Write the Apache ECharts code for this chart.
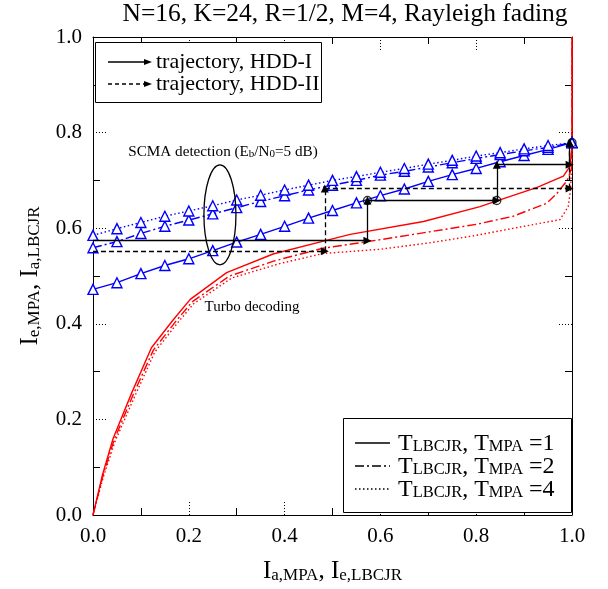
<!DOCTYPE html>
<html><head><meta charset="utf-8">
<script src="https://cdn.jsdelivr.net/npm/echarts@6/dist/echarts.min.js"></script>
<style>html,body{margin:0;padding:0;background:#fff}#c{width:608px;height:589px}</style>
</head><body><div id="c"></div>
<script>
// ---- data ----
const xSteps = [0,0.05,0.1,0.15,0.2,0.25,0.3,0.35,0.4,0.45,0.5,0.55,0.6,0.65,0.7,0.75,0.8,0.85,0.9,0.95,1.0];
const scmaT1 = [0.472,0.486,0.505,0.522,0.536,0.553,0.571,0.587,0.604,0.621,0.637,0.653,0.668,0.682,0.698,0.712,0.725,0.739,0.752,0.765,0.779];
const scmaT2 = [0.559,0.572,0.589,0.604,0.617,0.630,0.643,0.656,0.668,0.680,0.690,0.700,0.711,0.719,0.728,0.737,0.746,0.754,0.762,0.769,0.779];
const scmaT4 = [0.585,0.599,0.612,0.625,0.636,0.647,0.659,0.669,0.680,0.690,0.700,0.708,0.717,0.725,0.734,0.742,0.751,0.758,0.766,0.773,0.779];
const turboT1 = [[0,0],[0.02,0.085],[0.042,0.16],[0.081,0.256],[0.122,0.35],[0.168,0.409],[0.203,0.451],[0.279,0.507],[0.376,0.546],[0.481,0.573],[0.537,0.587],[0.69,0.614],[0.808,0.645],[0.843,0.657],[0.926,0.685],[0.982,0.709],[0.996,0.73],[1,0.77],[1,1]];
const turboT2 = [[0,0],[0.021,0.083],[0.044,0.157],[0.084,0.252],[0.126,0.345],[0.172,0.404],[0.207,0.446],[0.285,0.5],[0.38,0.532],[0.48,0.558],[0.6,0.576],[0.7,0.592],[0.8,0.608],[0.877,0.625],[0.947,0.652],[0.968,0.672],[0.99,0.7],[0.999,0.725],[1,0.78],[1,1]];
const turboT4 = [[0,0],[0.022,0.081],[0.046,0.154],[0.087,0.248],[0.129,0.341],[0.175,0.4],[0.21,0.442],[0.29,0.496],[0.39,0.526],[0.48,0.547],[0.6,0.556],[0.7,0.569],[0.8,0.585],[0.9,0.604],[0.975,0.618],[0.992,0.645],[0.997,0.68],[1,0.75],[1,1]];
const hddI = [[0,0.574],[0.573,0.574],[0.573,0.658],[0.843,0.658],[0.843,0.733],[0.995,0.733],[0.995,0.779]];
const hddII = [[0,0.552],[0.484,0.552],[0.484,0.683],[0.995,0.683],[0.995,0.779]];
const hddICircles = [[0.573,0.658],[0.843,0.658],[1,0.779]];
const tickLabels = ['0.0','0.2','0.4','0.6','0.8','1.0'];
const titleText = 'N=16, K=24, R=1/2, M=4, Rayleigh fading';
const scmaNote = ['SCMA detection (E','b','/N','0','=5 dB)'];
const turboNote = 'Turbo decoding';
const ellipseCenter = [0.265, 0.628];

// ---- styles ----
const FF = 'Liberation Serif';
const BLUE = '#0000ff', RED = '#ff0000';
const DASHDOT = [9,3,2,3];
const DOT = [1.5,2.5];

function segs(pts){ const out=[]; for(let i=0;i<pts.length-1;i++) out.push({coords:[pts[i],pts[i+1]]}); return out; }
function scma(name, vals, type){
  return {type:'line', name, data:xSteps.map((x,i)=>[x,vals[i]]), symbol:'triangle', symbolSize:10, showAllSymbol:true,
    itemStyle:{color:'#fff', borderColor:BLUE, borderWidth:1.4}, lineStyle:{color:BLUE, width:1.4, type}, z:3, silent:true};
}
function turbo(name, pts, type){
  return {type:'line', name, data:pts, symbol:'none', lineStyle:{color:RED, width:1.4, type}, z:2, silent:true};
}
function traj(pts, type){
  return {type:'lines', coordinateSystem:'cartesian2d', data:segs(pts), symbol:['none','triangle'], symbolSize:8,
    lineStyle:{color:'#000', width:1.3, type, opacity:1, curveness:0}, itemStyle:{color:'#000'}, z:5, silent:true};
}
const axisCommon = (pos, showLabel)=>({
  type:'value', min:0, max:1, interval:0.2, position:pos,
  axisLine:{show:true, onZero:false, lineStyle:{color:'#000', width:1}},
  axisTick:{show:true, inside:true, length:14, lineStyle:{color:'#000', width:1, type:[1,2]}},
  minorTick:{show:true, splitNumber:2, length:7, lineStyle:{color:'#000', width:1}},
  splitLine:{show:false}, minorSplitLine:{show:false},
  axisLabel:{show:showLabel, color:'#000', fontFamily:FF, fontSize:21, margin:11,
    formatter:v=>tickLabels[Math.round(v/0.2)]}
});
const richName = {
  b:{fontFamily:FF, fontSize:25, lineHeight:27, verticalAlign:'bottom', color:'#000'},
  s:{fontFamily:FF, fontSize:17, lineHeight:13, verticalAlign:'bottom', color:'#000'}
};
const xMain = Object.assign(axisCommon('bottom', true), {name:'{b|I}{s|a,MPA}{b|, I}{s|e,LBCJR}', nameLocation:'middle', nameGap:42, nameTextStyle:{rich:richName, fontFamily:FF, fontSize:25}});
const yMain = Object.assign(axisCommon('left', true), {name:'{b|I}{s|e,MPA}{b|, I}{s|a,LBCJR}', nameLocation:'middle', nameGap:50, nameRotate:90, nameTextStyle:{rich:richName, fontFamily:FF, fontSize:25}});

const chart = echarts.init(document.getElementById('c'), null, {renderer:'canvas'});
const option = {
  animation:false, backgroundColor:'#fff',
  grid:{left:93, right:36, top:37, bottom:73, containLabel:false},
  xAxis:[xMain, axisCommon('top', false)],
  yAxis:[yMain, axisCommon('right', false)],
  series:[
    turbo('T1 turbo', turboT1, 'solid'),
    turbo('T2 turbo', turboT2, DASHDOT),
    turbo('T4 turbo', turboT4, DOT),
    scma('T1', scmaT1, 'solid'),
    scma('T2', scmaT2, DASHDOT),
    scma('T4', scmaT4, DOT),
    traj(hddI, 'solid'),
    traj(hddII, [5,3]),
    {type:'scatter', data:hddICircles, symbol:'circle', symbolSize:8, itemStyle:{color:'rgba(0,0,0,0)', borderColor:'#000', borderWidth:1.3}, z:6, silent:true}
  ]
};
chart.setOption(option);

const c = chart.convertToPixel({gridIndex:0}, ellipseCenter);
const legLine = (x1,x2,y,dash)=>({type:'line', shape:{x1,y1:y,x2,y2:y}, style:{stroke:'#000', lineWidth:1.3, lineDash:dash}, z:100});
const arrowHead = (x,y)=>({type:'polygon', shape:{points:[[x-8,y-3],[x,y],[x-8,y+3]]}, style:{fill:'#000'}, z:100});
const sub = {
  t:{fontFamily:FF, fontSize:24, lineHeight:25, verticalAlign:'bottom', color:'#000'},
  u:{fontFamily:FF, fontSize:16.5, lineHeight:13, verticalAlign:'bottom', color:'#000'}
};
const legText = (y,n)=>({type:'text', x:398, y, style:{text:'{t|T}{u|LBCJR}{t|, T}{u|MPA}{t| ='+n+'}', rich:sub, verticalAlign:'middle', align:'left'}, z:100});
chart.setOption({graphic:[
  {type:'text', x:345, y:14, style:{text:titleText, fontFamily:FF, fontSize:25.5, fill:'#000', align:'center', verticalAlign:'middle'}},
  // legend 1
  {type:'rect', shape:{x:95.5, y:42.5, width:226, height:60}, style:{fill:'#fff', stroke:'#000', lineWidth:1}, z:90},
  legLine(108,145,62,null), arrowHead(152,62),
  {type:'text', x:156, y:62, style:{text:'trajectory, HDD-I', fontFamily:FF, fontSize:22, fill:'#000', verticalAlign:'middle'}, z:100},
  legLine(108,145,84,[4,3]), arrowHead(152,84),
  {type:'text', x:156, y:84, style:{text:'trajectory, HDD-II', fontFamily:FF, fontSize:22, fill:'#000', verticalAlign:'middle'}, z:100},
  // legend 2
  {type:'rect', shape:{x:343.5, y:418.5, width:228, height:94}, style:{fill:'#fff', stroke:'#000', lineWidth:1}, z:90},
  legLine(355,390,443,null), legText(443,1),
  legLine(355,390,466,DASHDOT), legText(466,2),
  legLine(355,390,489,DOT), legText(489,4),
  // annotations
  {type:'ellipse', shape:{cx:c[0], cy:c[1], rx:16, ry:50}, style:{fill:'none', stroke:'#000', lineWidth:1.3}, z:100},
  {type:'text', x:223, y:151, style:{text:'{n|'+scmaNote[0]+'}{s|'+scmaNote[1]+'}{n|'+scmaNote[2]+'}{s|'+scmaNote[3]+'}{n|'+scmaNote[4]+'}',
    rich:{n:{fontFamily:FF, fontSize:15.2, lineHeight:17, verticalAlign:'bottom', color:'#000'}, s:{fontFamily:FF, fontSize:11, lineHeight:10, verticalAlign:'bottom', color:'#000'}},
    align:'center', verticalAlign:'middle'}, z:100},
  {type:'text', x:252, y:307, style:{text:turboNote, fontFamily:FF, fontSize:15, fill:'#000', align:'center', verticalAlign:'middle'}, z:100}
]});
</script></body></html>
